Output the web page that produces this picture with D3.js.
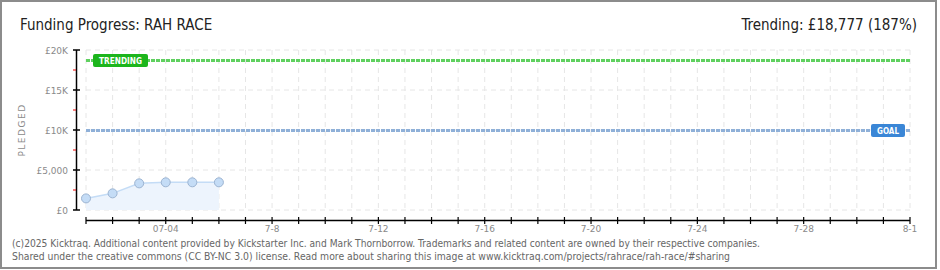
<!DOCTYPE html>
<html>
<head>
<meta charset="utf-8">
<script src="https://cdn.jsdelivr.net/npm/d3@7"></script>
<style>
  body { margin: 0; background: #fff; }
  svg { display: block; }
  .tick-label { font-family: "DejaVu Sans", sans-serif; font-size: 9px; fill: #8a8a8a; }
  .head { font-family: "DejaVu Sans Condensed", sans-serif; font-size: 15px; fill: #222; }
</style>
</head>
<body>
<svg id="chart" width="940" height="270"></svg>
<script>
"use strict";
// data
var days = [ "2025-07-01", "2025-07-02", "2025-07-03", "2025-07-04", "2025-07-05", "2025-07-06" ];
var pledged = [ 1450, 2080, 3330, 3460, 3460, 3460 ];
var goal = 10000;
var trending = 18777;
var yTicks = [ 0, 5000, 10000, 15000, 20000 ];
var yTickLabels = [ "£0", "£5,000", "£10K", "£15K", "£20K" ];
var xLabelDays = [ "2025-07-04", "2025-07-08", "2025-07-12", "2025-07-16", "2025-07-20", "2025-07-24", "2025-07-28", "2025-08-01" ];
var xLabels = [ "07-04", "7-8", "7-12", "7-16", "7-20", "7-24", "7-28", "8-1" ];

var parse = d3.utcParse( "%Y-%m-%d" );
var svg = d3.select( "#chart" );

var x = d3.scaleUtc()
  .domain( [ parse( "2025-07-01" ), parse( "2025-08-01" ) ] )
  .range( [ 86, 910 ] );
var y = d3.scaleLinear().domain( [ 0, 20000 ] ).range( [ 210, 50 ] );

var allDays = d3.utcDay.range( parse( "2025-07-01" ), d3.utcDay.offset( parse( "2025-08-01" ), 1 ) );

// frame
svg.append( "rect" )
  .attr( "x", 1 ).attr( "y", 1 ).attr( "width", 935 ).attr( "height", 267 )
  .attr( "fill", "#fff" ).attr( "stroke", "#8c8c8c" ).attr( "stroke-width", 2 );

// grid
var grid = svg.append( "g" ).attr( "stroke", "#e6e6e6" ).attr( "stroke-dasharray", "5,4" );
allDays.forEach( function( d ) {
  grid.append( "line" )
    .attr( "x1", x( d ) ).attr( "x2", x( d ) )
    .attr( "y1", y( 20000 ) ).attr( "y2", y( 0 ) );
} );
yTicks.forEach( function( v ) {
  grid.append( "line" )
    .attr( "x1", x( allDays[0] ) ).attr( "x2", x( allDays[allDays.length - 1] ) )
    .attr( "y1", y( v ) ).attr( "y2", y( v ) );
} );

// pledged area + line + points
var pts = days.map( function( d, i ) { return { date: parse( d ), value: pledged[i] }; } );
svg.append( "path" )
  .datum( pts )
  .attr( "fill", "#edf4fd" )
  .attr( "d", d3.area().x( function( d ) { return x( d.date ); } ).y0( y( 0 ) ).y1( function( d ) { return y( d.value ); } ) );
svg.append( "path" )
  .datum( pts )
  .attr( "fill", "none" ).attr( "stroke", "#c4dcf6" ).attr( "stroke-width", 1.5 )
  .attr( "d", d3.line().x( function( d ) { return x( d.date ); } ).y( function( d ) { return y( d.value ); } ) );
svg.selectAll( ".pt" )
  .data( pts )
  .enter().append( "circle" )
  .attr( "cx", function( d ) { return x( d.date ); } )
  .attr( "cy", function( d ) { return y( d.value ); } )
  .attr( "r", 4.5 )
  .attr( "fill", "#c4dcf6" ).attr( "stroke", "#9cb4d2" ).attr( "stroke-width", 1 );

// goal + trending lines
function refLine( value, color ) {
  svg.append( "line" )
    .attr( "x1", x( allDays[0] ) ).attr( "x2", x( allDays[allDays.length - 1] ) )
    .attr( "y1", Math.round( y( value ) ) + 0.5 ).attr( "y2", Math.round( y( value ) ) + 0.5 )
    .attr( "stroke", color ).attr( "stroke-width", 3 ).attr( "stroke-dasharray", "4,1" );
}
refLine( goal, "#8fb0d8" );
refLine( trending, "#5fd05f" );

function badge( text, bx, value, w, fill ) {
  var by = Math.round( y( value ) ) - 6;
  svg.append( "rect" )
    .attr( "x", bx ).attr( "y", by ).attr( "width", w ).attr( "height", 13 )
    .attr( "rx", 2 ).attr( "fill", fill );
  svg.append( "text" )
    .attr( "x", bx + w / 2 ).attr( "y", by + 10 )
    .attr( "text-anchor", "middle" )
    .attr( "font-family", "DejaVu Sans, sans-serif" ).attr( "font-size", 9 ).attr( "font-weight", "bold" )
    .attr( "textLength", w - 12 ).attr( "lengthAdjust", "spacingAndGlyphs" )
    .attr( "fill", "#fff" ).text( text );
}
badge( "TRENDING", 93, trending, 55, "#1cb51c" );
badge( "GOAL", 871, goal, 34, "#3a86d6" );

// y axis
svg.append( "line" )
  .attr( "x1", 76.5 ).attr( "x2", 76.5 ).attr( "y1", y( 20000 ) ).attr( "y2", y( 0 ) )
  .attr( "stroke", "#000" ).attr( "stroke-width", 1.5 );
d3.range( 2500, 20000, 5000 ).forEach( function( v ) {
  svg.append( "line" )
    .attr( "x1", 73 ).attr( "x2", 76 ).attr( "y1", y( v ) ).attr( "y2", y( v ) )
    .attr( "stroke", "#e00" ).attr( "stroke-width", 1 );
} );
yTicks.forEach( function( v, i ) {
  svg.append( "line" )
    .attr( "x1", 73 ).attr( "x2", 80 ).attr( "y1", y( v ) ).attr( "y2", y( v ) )
    .attr( "stroke", "#000" ).attr( "stroke-width", 1.5 );
  svg.append( "text" )
    .attr( "class", "tick-label" )
    .attr( "x", 68 ).attr( "y", y( v ) + 3.5 )
    .attr( "text-anchor", "end" )
    .text( yTickLabels[i] );
} );
svg.append( "text" )
  .attr( "transform", "translate(25,130) rotate(-90)" )
  .attr( "text-anchor", "middle" )
  .attr( "font-family", "DejaVu Sans, sans-serif" ).attr( "font-size", 9 )
  .attr( "letter-spacing", 1.5 )
  .attr( "fill", "#8a8a8a" ).text( "PLEDGED" );

// x axis
svg.append( "line" )
  .attr( "x1", x( allDays[0] ) ).attr( "x2", x( allDays[allDays.length - 1] ) )
  .attr( "y1", 220.5 ).attr( "y2", 220.5 )
  .attr( "stroke", "#000" ).attr( "stroke-width", 1.5 );
allDays.forEach( function( d ) {
  svg.append( "line" )
    .attr( "x1", x( d ) ).attr( "x2", x( d ) ).attr( "y1", 217 ).attr( "y2", 224 )
    .attr( "stroke", "#000" ).attr( "stroke-width", 1.2 );
} );
xLabelDays.forEach( function( d, i ) {
  svg.append( "text" )
    .attr( "class", "tick-label" )
    .attr( "x", x( parse( d ) ) ).attr( "y", 232 )
    .attr( "text-anchor", "middle" )
    .text( xLabels[i] );
} );

// titles
svg.append( "text" )
  .attr( "class", "head" )
  .attr( "x", 20 ).attr( "y", 30 )
  .text( "Funding Progress: RAH RACE" );
svg.append( "text" )
  .attr( "class", "head" )
  .attr( "x", 917 ).attr( "y", 30 )
  .attr( "text-anchor", "end" )
  .text( "Trending: £18,777 (187%)" );

// footer
var foot = [
  "(c)2025 Kicktraq. Additional content provided by Kickstarter Inc. and Mark Thornborrow. Trademarks and related content are owned by their respective companies.",
  "Shared under the creative commons (CC BY-NC 3.0) license. Read more about sharing this image at www.kicktraq.com/projects/rahrace/rah-race/#sharing"
];
var footLen = [ 748, 718 ];
foot.forEach( function( t, i ) {
  svg.append( "text" )
    .attr( "x", 12 ).attr( "y", 247 + i * 13 )
    .attr( "font-family", "DejaVu Sans, sans-serif" ).attr( "font-size", 10 )
    .attr( "textLength", footLen[i] ).attr( "lengthAdjust", "spacingAndGlyphs" )
    .attr( "fill", "#666" ).text( t );
} );
</script>
</body>
</html>
